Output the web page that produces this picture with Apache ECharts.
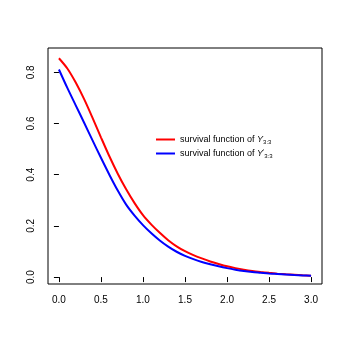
<!DOCTYPE html>
<html><head><meta charset="utf-8">
<script src="https://cdn.jsdelivr.net/npm/echarts@6/dist/echarts.min.js"></script>
<style>html,body{margin:0;padding:0;background:#fff}#c{width:346px;height:346px}</style>
</head><body><div id="c"></div>
<script>
var xs = [0,0.1,0.2,0.3,0.4,0.5,0.6,0.7,0.8,0.9,1.0,1.1,1.2,1.3,1.4,1.5,1.6,1.7,1.8,1.9,2.0,2.1,2.2,2.3,2.4,2.5,2.6,2.7,2.8,2.9,3.0];
var survY = [0.855,0.815,0.760,0.695,0.622,0.546,0.472,0.404,0.343,0.289,0.242,0.205,0.173,0.144,0.120,0.101,0.086,0.073,0.061,0.051,0.042,0.035,0.029,0.024,0.020,0.0165,0.0135,0.011,0.009,0.007,0.0055];
var survYstar = [0.811,0.739,0.671,0.603,0.534,0.466,0.400,0.338,0.283,0.240,0.203,0.171,0.143,0.119,0.099,0.083,0.070,0.059,0.050,0.042,0.035,0.029,0.024,0.020,0.017,0.014,0.012,0.010,0.008,0.0065,0.005];
var xTicks = [0,0.5,1.0,1.5,2.0,2.5,3.0];
var yTicks = [0,0.2,0.4,0.6,0.8];
var seriesNames = ['Y', 'Ystar'];

function pairs(a){ return xs.map(function(x,i){return [x,a[i]];}); }
var font = '"Liberation Sans", Arial, sans-serif';
var chart = echarts.init(document.getElementById('c'), null, {renderer:'canvas'});
chart.setOption({
  animation:false,
  backgroundColor:'#fff',
  grid:{left:48,right:24,top:48,bottom:62,show:true,borderColor:'#000',borderWidth:1,backgroundColor:'transparent'},
  xAxis:{type:'value',min:-0.13,max:3.13,splitLine:{show:false},
    axisLine:{show:false},
    axisTick:{show:true,length:5,lineStyle:{color:'#000'},customValues:xTicks},
    axisLabel:{customValues:xTicks,margin:11,color:'#000',fontSize:10,fontFamily:font,formatter:function(v){return v.toFixed(1);}}},
  yAxis:{type:'value',min:-0.027,max:0.895,splitLine:{show:false},
    axisLine:{show:false},
    axisTick:{show:true,length:5,lineStyle:{color:'#000'},customValues:yTicks},
    axisLabel:{customValues:yTicks,rotate:90,margin:12,color:'#000',fontSize:10,fontFamily:font,formatter:function(v){return v.toFixed(1);}}},
  legend:{show:true,left:151,top:130,orient:'vertical',itemWidth:19,itemHeight:2,itemGap:3,icon:'rect',
    textStyle:{fontFamily:font,fontSize:9,color:'#000',
      rich:{
        n:{fontFamily:font,fontSize:9,color:'#000'},
        y:{fontFamily:font,fontSize:9,fontStyle:'italic',color:'#000'},
        s:{fontFamily:font,fontSize:6,color:'#000',verticalAlign:'bottom',padding:[5,0,0,0]},
        p:{fontFamily:font,fontSize:6,color:'#000',padding:[0,0,5,0]}
      }},
    formatter:function(name){
      if(name==='Y') return '{n|survival function of }{y|Y}{s|3:3}';
      return '{n|survival function of }{y|Y}{p|′}{s|3:3}';
    },
    data:seriesNames},
  series:[
    {name:seriesNames[0],type:'line',data:pairs(survY),smooth:0.3,showSymbol:false,lineStyle:{color:'#ff0000',width:2},itemStyle:{color:'#ff0000'}},
    {name:seriesNames[1],type:'line',data:pairs(survYstar),smooth:0.3,showSymbol:false,lineStyle:{color:'#0000ff',width:2},itemStyle:{color:'#0000ff'}}
  ]
});
</script></body></html>
